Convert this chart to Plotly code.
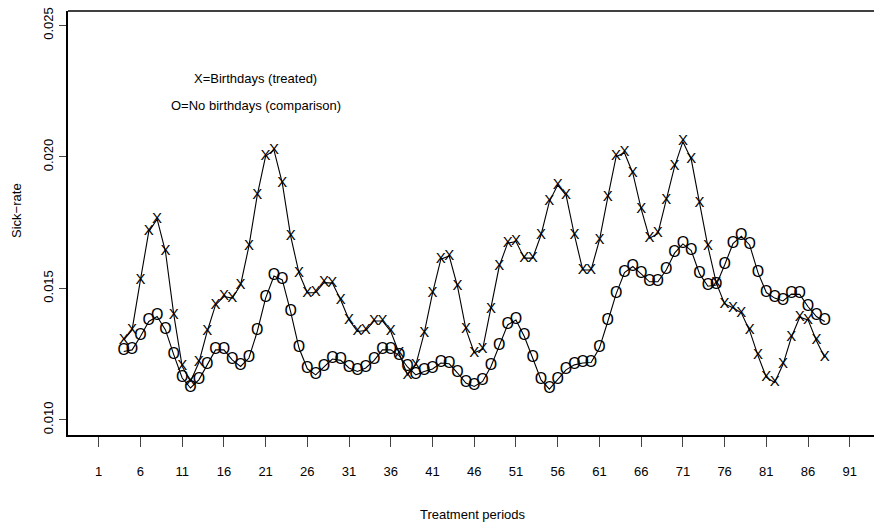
import plotly.graph_objects as go

periods = list(range(4, 89))
treated = [
    0.01304, 0.01342, 0.01532, 0.01716, 0.01763, 0.01640, 0.01399, 0.01203, 0.01146, 0.01218,
    0.01336, 0.01437, 0.01469, 0.01463, 0.01513, 0.01661, 0.01855, 0.02003, 0.02026, 0.01900,
    0.01699, 0.01558, 0.01483, 0.01484, 0.01522, 0.01520, 0.01456, 0.01380, 0.01336, 0.01340,
    0.01376, 0.01376, 0.01336, 0.01254, 0.01171, 0.01209, 0.01330, 0.01482, 0.01611, 0.01623,
    0.01507, 0.01345, 0.01255, 0.01268, 0.01422, 0.01585, 0.01672, 0.01678, 0.01615, 0.01615,
    0.01703, 0.01830, 0.01893, 0.01855, 0.01703, 0.01570, 0.01570, 0.01684, 0.01846, 0.02001,
    0.02016, 0.01938, 0.01802, 0.01691, 0.01708, 0.01836, 0.01963, 0.02058, 0.01991, 0.01824,
    0.01659, 0.01521, 0.01441, 0.01426, 0.01407, 0.01339, 0.01244, 0.01161, 0.01142, 0.01211,
    0.01314, 0.01390, 0.01380, 0.01301, 0.01237,
]
comparison = [
    0.01260, 0.01266, 0.01317, 0.01374, 0.01393, 0.01342, 0.01247, 0.01159, 0.01121, 0.01152,
    0.01209, 0.01266, 0.01266, 0.01228, 0.01203, 0.01235, 0.01336, 0.01463, 0.01547, 0.01532,
    0.01411, 0.01273, 0.01194, 0.01171, 0.01201, 0.01231, 0.01226, 0.01197, 0.01184, 0.01197,
    0.01226, 0.01266, 0.01266, 0.01244, 0.01201, 0.01171, 0.01184, 0.01193, 0.01216, 0.01213,
    0.01178, 0.01140, 0.01127, 0.01146, 0.01203, 0.01279, 0.01361, 0.01380, 0.01317, 0.01235,
    0.01152, 0.01117, 0.01152, 0.01190, 0.01209, 0.01216, 0.01218, 0.01273, 0.01374, 0.01479,
    0.01560, 0.01583, 0.01555, 0.01525, 0.01525, 0.01570, 0.01634, 0.01669, 0.01644, 0.01555,
    0.01508, 0.01513, 0.01589, 0.01670, 0.01698, 0.01665, 0.01560, 0.01484, 0.01463, 0.01452,
    0.01478, 0.01477, 0.01430, 0.01393, 0.01374,
]
x_ticks = list(range(1, 92, 5))
y_ticks = [0.010, 0.015, 0.020, 0.025]
y_tick_labels = ["0.010", "0.015", "0.020", "0.025"]

FONT = "Liberation Sans, Arial, Helvetica, sans-serif"

fig = go.Figure()
fig.add_trace(go.Scatter(
    x=periods, y=treated, mode="lines+text",
    text=["X"] * len(periods), textposition="middle center",
    textfont=dict(family=FONT, size=15, color="black"),
    line=dict(color="black", width=1.1), showlegend=False, hoverinfo="skip",
))
fig.add_trace(go.Scatter(
    x=periods, y=comparison, mode="lines+text",
    text=["O"] * len(periods), textposition="middle center",
    textfont=dict(family=FONT, size=16, color="black"),
    line=dict(color="black", width=1.1), showlegend=False, hoverinfo="skip",
))

fig.update_layout(
    width=874, height=532,
    margin=dict(l=68, r=0, t=11, b=97),
    paper_bgcolor="white", plot_bgcolor="white",
    xaxis=dict(
        range=[-2.68, 93.9], tickmode="array", tickvals=x_ticks,
        ticks="outside", ticklen=10, tickwidth=1, tickcolor="#444",
        showline=True, linecolor="black", linewidth=1.5,
        showgrid=False, zeroline=False, automargin=False,
        tickfont=dict(family=FONT, size=13, color="black"),
        ticklabelstandoff=14,
    ),
    yaxis=dict(
        range=[0.009422, 0.025551], tickmode="array", tickvals=y_ticks,
        ticktext=y_tick_labels, tickangle=-90,
        ticks="outside", ticklen=7, tickwidth=1, tickcolor="#444",
        showline=True, linecolor="black", linewidth=1.5,
        showgrid=False, zeroline=False, automargin=False,
        tickfont=dict(family=FONT, size=13, color="black"),
        ticklabelstandoff=1,
    ),
    shapes=[dict(type="line", xref="paper", yref="paper", x0=0, x1=1, y0=1, y1=1,
                 line=dict(color="black", width=1.5))],
    annotations=[
        dict(text="X=Birthdays (treated)", x=19.8, y=0.02300, xref="x", yref="y",
             xanchor="center", yanchor="middle",
             showarrow=False, font=dict(family=FONT, size=13, color="black")),
        dict(text="O=No birthdays (comparison)", x=19.8, y=0.02197, xref="x", yref="y",
             xanchor="center", yanchor="middle",
             showarrow=False, font=dict(family=FONT, size=13, color="black")),
        dict(text="Treatment periods", x=0.502, y=-0.188, xref="paper", yref="paper",
             xanchor="center", yanchor="middle",
             showarrow=False, font=dict(family=FONT, size=13, color="black")),
        dict(text="Sick\u2212rate", x=-0.0637, y=0.53, xref="paper", yref="paper",
             xanchor="center", yanchor="middle",
             textangle=-90, showarrow=False, font=dict(family=FONT, size=13, color="black")),
    ],
)

fig.write_html(
    "out.html",
    config={"displayModeBar": False},
    post_script="document.body.style.margin='0';document.body.style.padding='0';",
)
